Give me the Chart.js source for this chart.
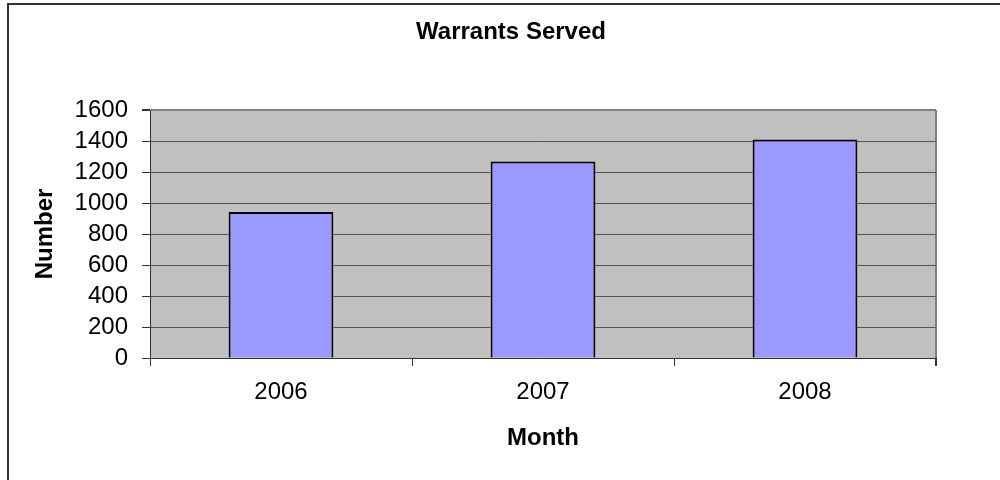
<!DOCTYPE html>
<html>
<head>
<meta charset="utf-8">
<title>Warrants Served</title>
<script src="https://cdn.jsdelivr.net/npm/chart.js@4.4.1/dist/chart.umd.min.js"></script>
<style>
  html, body { margin: 0; padding: 0; background: #fff; overflow: hidden; }
  #wrap { position: relative; width: 1000px; height: 480px; overflow: hidden; }
  #frame { position: absolute; left: 7px; top: 3px; width: 1100px; height: 600px;
           border-top: 2px solid #333; border-left: 2px solid #333; }
  #chart { position: absolute; left: 0; top: 0; }
</style>
</head>
<body>
<div id="wrap">
  <div id="frame"></div>
  <canvas id="chart" width="1000" height="480"></canvas>
</div>
<script>
const chartTitle = "Warrants Served";
const xTitle = "Month";
const yTitle = "Number";
const years = ["2006", "2007", "2008"];
const warrants = [942, 1268, 1410];
const yMin = 0;
const yMax = 1600;
const yStep = 200;

Chart.defaults.font.family = "'Liberation Sans', Arial, sans-serif";
Chart.defaults.color = "#000";

// grey plot area like the old Excel charts
const plotBg = {
  id: "plotBg",
  beforeDraw(chart) {
    const { ctx, chartArea: a } = chart;
    ctx.save();
    ctx.fillStyle = "#c0c0c0";
    ctx.fillRect(a.left, a.top, a.right - a.left, a.bottom - a.top);
    ctx.restore();
  }
};

new Chart(document.getElementById("chart"), {
  type: "bar",
  data: {
    labels: years,
    datasets: [{
      data: warrants,
      backgroundColor: "#9999ff",
      borderColor: "#000",
      borderWidth: 2,
      barPercentage: 0.4,
      categoryPercentage: 1
    }]
  },
  options: {
    responsive: false,
    animation: false,
    layout: { padding: { left: 31, right: 9, top: 0, bottom: 22 } },
    plugins: {
      legend: { display: false },
      tooltip: { enabled: false },
      title: {
        display: true,
        text: chartTitle,
        font: { size: 24, weight: "bold" },
        padding: { top: 18, bottom: 63.2 }
      }
    },
    scales: {
      x: {
        afterFit: (s) => { s.height = 100; },
        grid: {
          offset: true,
          // only the right-hand edge of the plot gets a line
          color: (c) => (c.index === undefined ? "#808080" : "rgba(0,0,0,0)"),
          lineWidth: (c) => (c.index === undefined ? 2 : 1),
          tickColor: "#333",
          tickLength: 8
        },
        border: { color: "#333", width: 1 },
        ticks: { font: { size: 24 }, padding: 12 },
        title: {
          display: true,
          text: xTitle,
          font: { size: 24, weight: "bold" },
          padding: { top: 0, bottom: 5 }
        }
      },
      y: {
        min: yMin,
        max: yMax,
        afterFit: (s) => { s.width = 119; },
        grid: {
          color: (c) => (c.tick && c.tick.value === yMax ? "#808080" : "#555"),
          lineWidth: (c) => (c.tick && c.tick.value === yMax ? 2 : 1),
          tickColor: "#333",
          tickLength: 8
        },
        border: { color: "#333", width: 1 },
        ticks: {
          stepSize: yStep,
          autoSkip: false,
          font: { size: 24 },
          padding: 14,
          callback: (v) => String(v)
        },
        title: {
          display: true,
          text: yTitle,
          font: { size: 24, weight: "bold" },
          padding: { top: 0, bottom: 0 }
        }
      },
      // empty spacer on the right so the chart title sits where the original has it
      spacer: {
        type: "linear",
        position: "right",
        afterFit: (s) => { s.width = 55; },
        grid: { display: false },
        border: { display: false },
        ticks: { display: false }
      }
    }
  },
  plugins: [plotBg]
});
</script>
</body>
</html>
